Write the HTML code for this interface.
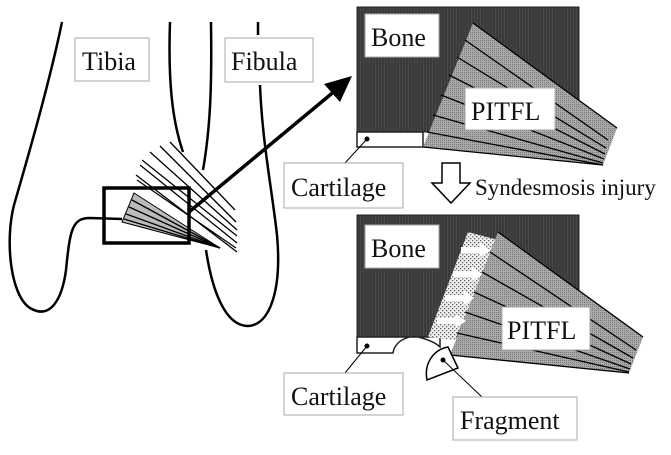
<!DOCTYPE html>
<html><head><meta charset="utf-8"><style>
body{margin:0;background:#fff}
text{font-family:"Liberation Serif","Times New Roman",serif;fill:#111}
</style></head><body>
<svg width="671" height="450" viewBox="0 0 671 450" xmlns="http://www.w3.org/2000/svg" font-family="Liberation Serif, serif">
<defs>
<pattern id="dk" width="3" height="3" patternUnits="userSpaceOnUse"><rect width="3" height="3" fill="#3a3a3a"/><rect width="1" height="3" fill="#474747"/></pattern>
<pattern id="gr" width="2" height="2" patternUnits="userSpaceOnUse"><rect width="2" height="2" fill="#aaa"/><rect width="1" height="1" fill="#777"/></pattern>
<pattern id="dt" width="4" height="4" patternUnits="userSpaceOnUse"><rect width="4" height="4" fill="#eee"/><rect width="1.3" height="1.3" fill="#666"/><rect x="2" y="2" width="1.3" height="1.3" fill="#666"/></pattern>
</defs>
<g fill="none" stroke="#000" stroke-width="2.5">
<path d="M62,22 C50,80 30,150 14,205 C5,240 10,295 30,308 C50,320 62,300 66,270 C70,230 72,218 90,218 L122,219"/>
<path d="M170,22 C168,80 172,120 183,152"/>
<path d="M211,22 C212,90 210,130 203,170"/>
<path d="M258,22 L258,35 M260,85 C262,140 272,190 277,235 C282,290 270,325 248,326 C225,326 212,290 206,250"/>
</g>
<g stroke="#000" stroke-width="1.3">
<line x1="170" y1="142" x2="235" y2="210"/>
<line x1="160" y1="146" x2="236" y2="222"/>
<line x1="150" y1="152" x2="237" y2="230"/>
<line x1="142" y1="160" x2="237" y2="236"/>
<line x1="140" y1="165" x2="237" y2="243"/>
<line x1="137" y1="180" x2="236" y2="248"/>
<line x1="136" y1="175" x2="237" y2="252"/>
</g>
<polygon points="134,193 220,248 122,222" fill="#bbb" stroke="#000" stroke-width="1"/>
<g stroke="#000" stroke-width="1.3">
<line x1="132" y1="200" x2="220" y2="248"/><line x1="129" y1="207" x2="220" y2="248"/><line x1="126" y1="214" x2="220" y2="248"/><line x1="124" y1="219" x2="220" y2="248"/>
</g>
<rect x="104" y="188" width="85" height="55" fill="none" stroke="#000" stroke-width="3.5"/>
<line x1="189" y1="212" x2="336" y2="90" stroke="#000" stroke-width="3.5"/>
<polygon points="352,76 324,84 340,102" fill="#000"/>
<rect x="75" y="38" width="74" height="43" fill="#fff" stroke="#aaa"/><text x="82" y="70" font-size="26">Tibia</text>
<rect x="225" y="38" width="88" height="44" fill="#fff" stroke="#aaa"/><text x="231" y="70" font-size="26">Fibula</text>

<rect x="357" y="7" width="222" height="125" fill="url(#dk)" stroke="#222"/>
<rect x="357" y="132" width="66" height="15" fill="#fff" stroke="#222" stroke-width="1.5"/>
<polygon points="473,23 617,128 603,165 423,147" fill="url(#gr)"/>
<g stroke="#000" stroke-width="1.3"><line x1="473" y1="23" x2="617" y2="128"/><line x1="423" y1="147" x2="603" y2="165"/>
<line x1="465" y1="40" x2="608" y2="140"/><line x1="457" y1="57" x2="606" y2="148"/><line x1="449" y1="75" x2="605" y2="154"/><line x1="441" y1="95" x2="604" y2="159"/><line x1="433" y1="115" x2="603" y2="163"/><line x1="427" y1="132" x2="603" y2="165"/></g>
<rect x="365" y="14" width="74" height="43" fill="#fff" stroke="#aaa"/><text x="371" y="46" font-size="26">Bone</text>
<rect x="465" y="88" width="90" height="42" fill="#fff" stroke="#aaa"/><text x="471" y="120" font-size="26">PITFL</text>
<circle cx="367" cy="139" r="2.5" fill="#000"/><line x1="367" y1="139" x2="345" y2="163" stroke="#000"/>
<rect x="284" y="163" width="119" height="45" fill="#fff" stroke="#aaa"/><text x="291" y="196" font-size="26">Cartilage</text>
<polygon points="442,163 460,163 460,183 470,183 451,203 432,183 442,183" fill="#fff" stroke="#000" stroke-width="1.5"/>
<text x="475" y="195" font-size="23">Syndesmosis injury</text>

<rect x="357" y="215" width="222" height="122" fill="url(#dk)" stroke="#222"/>
<path d="M357,337 L357,353 L393,353 C395,340 410,335 418,337 C430,340 436,343 440,347 L440,337 Z" fill="#fff" stroke="#222" stroke-width="1.5"/>
<polygon points="468,232 498,240 455,340 428,337" fill="url(#dt)"/>
<polygon points="498,232 643,337 629,373 450,355" fill="url(#gr)"/>
<g stroke="#000" stroke-width="1.3"><line x1="498" y1="232" x2="643" y2="337"/><line x1="450" y1="355" x2="629" y2="373"/>
<line x1="490" y1="252" x2="636" y2="350"/><line x1="482" y1="272" x2="633" y2="358"/><line x1="474" y1="292" x2="631" y2="364"/><line x1="465" y1="312" x2="630" y2="369"/><line x1="457" y1="333" x2="629" y2="372"/></g>
<g fill="#fff"><polygon points="461,247 480,247 480,243 490,250 480,257 480,253 461,253"/><polygon points="453,271 472,271 472,267 482,274 472,281 472,277 453,277"/><polygon points="445,295 464,295 464,291 474,298 464,305 464,301 445,301"/><polygon points="437,318 456,318 456,314 466,321 456,328 456,324 437,324"/></g>
<rect x="365" y="225" width="74" height="43" fill="#fff" stroke="#aaa"/><text x="371" y="257" font-size="26">Bone</text>
<rect x="502" y="307" width="88" height="43" fill="#fff" stroke="#aaa"/><text x="507" y="339" font-size="26">PITFL</text>
<path d="M427,380 C424,365 432,350 448,347 L458,368 Z" fill="#fff" stroke="#000" stroke-width="1.5"/>
<circle cx="443" cy="360" r="2.5" fill="#000"/><line x1="443" y1="360" x2="482" y2="397" stroke="#000"/>
<circle cx="367" cy="346" r="2.5" fill="#000"/><line x1="367" y1="346" x2="345" y2="373" stroke="#000"/>
<rect x="284" y="373" width="119" height="42" fill="#fff" stroke="#aaa"/><text x="291" y="405" font-size="26">Cartilage</text>
<rect x="453" y="397" width="124" height="43" fill="#fff" stroke="#aaa"/><text x="460" y="429" font-size="26">Fragment</text>
</svg>
</body></html>
